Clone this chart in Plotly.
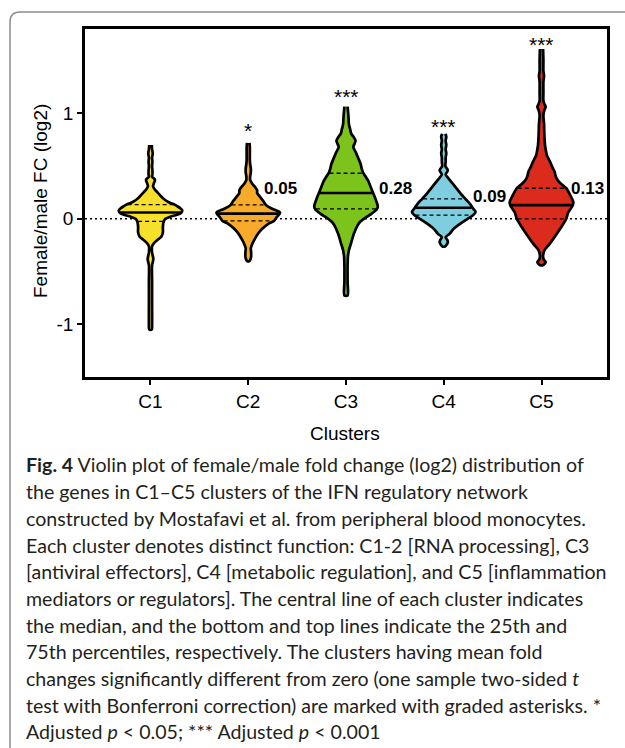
import numpy as np
import plotly.graph_objects as go

# ---------------- data ----------------
clusters = ["C1", "C2", "C3", "C4", "C5"]

# violin outlines: log2 FC levels and relative half-width (1 = widest point)
c1_y = [0.70, 0.66, 0.62, 0.58, 0.54, 0.50, 0.46, 0.42, 0.40, 0.37, 0.34, 0.31, 0.28, 0.25, 0.22, 0.19,
        0.16, 0.14, 0.12, 0.10, 0.08, 0.06, 0.04, 0.02, 0.00, -0.03, -0.08, -0.13, -0.17, -0.20, -0.23,
        -0.26, -0.32, -0.36, -0.38, -0.40, -0.44, -0.60, -0.80, -1.00, -1.05]
c1_w = [0.04, 0.05, 0.07, 0.05, 0.06, 0.05, 0.06, 0.06, 0.05, 0.14, 0.11, 0.08, 0.13, 0.22, 0.31, 0.41,
        0.56, 0.72, 0.84, 0.94, 1.00, 0.97, 0.86, 0.62, 0.47, 0.41, 0.39, 0.39, 0.34, 0.22, 0.11,
        0.05, 0.05, 0.08, 0.09, 0.08, 0.05, 0.05, 0.05, 0.05, 0.04]

c2_y = [0.72, 0.68, 0.62, 0.56, 0.52, 0.48, 0.44, 0.40, 0.37, 0.33, 0.30, 0.27, 0.245, 0.22, 0.17, 0.13,
        0.10, 0.08, 0.06, 0.04, 0.02, 0.00, -0.02, -0.05, -0.095, -0.14, -0.20, -0.25, -0.28, -0.32,
        -0.36, -0.39, -0.40]
c2_w = [0.04, 0.05, 0.05, 0.05, 0.06, 0.08, 0.08, 0.06, 0.06, 0.13, 0.22, 0.28, 0.28, 0.34, 0.47, 0.56,
        0.72, 0.88, 1.00, 0.97, 0.91, 0.86, 0.81, 0.62, 0.44, 0.31, 0.19, 0.11, 0.08, 0.09,
        0.09, 0.06, 0.04]

c3_y = [1.065, 1.03, 0.96, 0.90, 0.85, 0.81, 0.78, 0.74, 0.70, 0.68, 0.63, 0.58, 0.52, 0.47, 0.43, 0.40,
        0.36, 0.30, 0.24, 0.17, 0.12, 0.09, 0.05, 0.02, 0.00, -0.03, -0.06, -0.14, -0.22, -0.30, -0.36,
        -0.45, -0.60, -0.727]
c3_w = [0.05, 0.06, 0.08, 0.09, 0.13, 0.16, 0.23, 0.30, 0.25, 0.23, 0.31, 0.38, 0.46, 0.50, 0.55, 0.62,
        0.70, 0.78, 0.86, 0.95, 1.00, 0.97, 0.81, 0.66, 0.56, 0.44, 0.37, 0.25, 0.17, 0.09, 0.06,
        0.05, 0.05, 0.05]

c4_y = [0.806, 0.78, 0.74, 0.70, 0.66, 0.62, 0.58, 0.54, 0.50, 0.46, 0.42, 0.39, 0.36, 0.30, 0.24, 0.19,
        0.14, 0.10, 0.065, 0.04, 0.02, 0.00, -0.05, -0.095, -0.14, -0.175, -0.20, -0.22, -0.245, -0.262]
c4_w = [0.05, 0.08, 0.06, 0.08, 0.06, 0.08, 0.06, 0.06, 0.05, 0.13, 0.06, 0.13, 0.21, 0.37, 0.53, 0.68,
        0.83, 0.92, 1.00, 0.94, 0.86, 0.75, 0.50, 0.31, 0.19, 0.06, 0.11, 0.13, 0.09, 0.04]

c5_y = [1.61, 1.50, 1.40, 1.36, 1.30, 1.20, 1.12, 1.09, 1.06, 1.03, 0.98, 0.90, 0.80, 0.70, 0.66, 0.60,
        0.57, 0.52, 0.49, 0.45, 0.41, 0.37, 0.33, 0.29, 0.22, 0.16, 0.126, 0.06, 0.02, 0.00, -0.03,
        -0.08, -0.16, -0.24, -0.30, -0.36, -0.39, -0.41, -0.43, -0.44]
c5_w = [0.05, 0.06, 0.06, 0.08, 0.06, 0.06, 0.06, 0.09, 0.13, 0.09, 0.06, 0.08, 0.09, 0.11, 0.13, 0.17,
        0.22, 0.30, 0.34, 0.41, 0.44, 0.50, 0.62, 0.78, 0.91, 1.00, 0.98, 0.84, 0.80, 0.78, 0.72,
        0.62, 0.44, 0.25, 0.09, 0.05, 0.08, 0.13, 0.09, 0.04]

profile_y = [c1_y, c2_y, c3_y, c4_y, c5_y]
profile_w = [c1_w, c2_w, c3_w, c4_w, c5_w]

q1 = [-0.025, -0.02, 0.095, 0.035, 0.0]
median = [0.06, 0.05, 0.245, 0.105, 0.13]
q3 = [0.135, 0.133, 0.432, 0.19, 0.29]

mean_labels = ["", "0.05", "0.28", "0.09", "0.13"]
significance = ["", "*", "***", "***", "***"]

caption_lines = [
    "<b>Fig. 4</b> Violin plot of female/male fold change (log2) distribution of",
    "the genes in C1–C5 clusters of the IFN regulatory network",
    "constructed by Mostafavi et al. from peripheral blood monocytes.",
    "Each cluster denotes distinct function: C1-2 [RNA processing], C3",
    "[antiviral effectors], C4 [metabolic regulation], and C5 [inflammation",
    "mediators or regulators]. The central line of each cluster indicates",
    "the median, and the bottom and top lines indicate the 25th and",
    "75th percentiles, respectively. The clusters having mean fold",
    "changes significantly different from zero (one sample two-sided <i>t</i>",
    "test with Bonferroni correction) are marked with graded asterisks. *",
    "Adjusted <i>p</i> &lt; 0.05; *** Adjusted <i>p</i> &lt; 0.001",
]

# ---------------- styling / layout constants ----------------
colors = ["#F6E02B", "#F8AA2A", "#7CC31C", "#7DCFE0", "#DA2B1D"]
HALF = 0.325            # widest half-width in category units
W, H = 625, 748
L, R, T, B = 85, 18, 29, 371
PW, PH = W - L - R, H - T - B
FONT = "Liberation Sans, Arial, sans-serif"

label_dx = [0, 0.33, 0.51, 0.47, 0.47]
label_y = [0, 0.284, 0.284, 0.214, 0.284]
star_y = [0, 0.856, 1.175, 0.894, 1.672]


def px_x(px):
    return (px - L) / PW


def px_y(py):
    return (H - B - py) / PH


fig = go.Figure()

for i in range(5):
    ys = np.array(profile_y[i], dtype=float)
    hw = np.array(profile_w[i], dtype=float) * HALF
    xs = np.concatenate([i + hw, (i - hw)[::-1]])
    yy = np.concatenate([ys, ys[::-1]])
    fig.add_trace(go.Scatter(
        x=xs, y=yy, mode="lines", fill="toself", fillcolor=colors[i],
        line=dict(color="black", width=2.7, shape="spline", smoothing=0.8),
        hoverinfo="skip", showlegend=False))
    for q, dash, lw in [(q1[i], "4px,3px", 1.3), (q3[i], "4px,3px", 1.3), (median[i], "solid", 2.7)]:
        h = float(np.interp(q, ys[::-1], hw[::-1])) - 0.01
        fig.add_trace(go.Scatter(
            x=[i - h, i + h], y=[q, q], mode="lines",
            line=dict(color="black", width=lw, dash=dash),
            hoverinfo="skip", showlegend=False))
    if mean_labels[i]:
        fig.add_annotation(x=i + label_dx[i], y=label_y[i], text="<b>" + mean_labels[i] + "</b>",
                           showarrow=False, xanchor="center", yanchor="middle",
                           font=dict(family=FONT, size=17, color="black"))
    if significance[i]:
        fig.add_annotation(x=i, y=star_y[i], text=significance[i], showarrow=False,
                           xanchor="center", yanchor="middle", yshift=-2,
                           font=dict(family=FONT, size=21, color="black"))

# dotted zero line
fig.add_shape(type="line", xref="paper", x0=0, x1=1, yref="y", y0=0, y1=0,
              line=dict(color="black", width=1.6, dash="2px,3px"), layer="below")

# outer rounded frame
x10, x20, xr = px_x(10), px_x(20), px_x(660)
y12, y22, yb = px_y(12), px_y(22), px_y(790)
fig.add_shape(type="path", xref="paper", yref="paper",
              path=f"M {x10},{yb} L {x10},{y22} Q {x10},{y12} {x20},{y12} L {xr},{y12}",
              line=dict(color="#8c8c8c", width=1.5))

axis_font = dict(family=FONT, size=19, color="black")
fig.update_xaxes(range=[-0.67, 4.67], tickvals=list(range(5)), ticktext=clusters,
                 showline=True, linecolor="black", linewidth=2.7, mirror=True,
                 ticks="outside", ticklen=5, tickwidth=2.4, tickcolor="black",
                 tickfont=axis_font, showgrid=False, zeroline=False)
fig.update_yaxes(range=[-1.5, 1.8], tickvals=[-1, 0, 1], ticktext=["-1", "0", "1"],
                 showline=True, linecolor="black", linewidth=2.7, mirror=True,
                 ticks="outside", ticklen=5, tickwidth=2.4, tickcolor="black",
                 tickfont=axis_font, showgrid=False, zeroline=False)

# axis titles
fig.add_annotation(xref="paper", yref="paper", x=px_x(345), y=px_y(433), text="Clusters",
                   showarrow=False, xanchor="center", yanchor="middle",
                   font=dict(family=FONT, size=19, color="black"))
fig.add_annotation(xref="paper", yref="paper", x=px_x(41), y=px_y(201),
                   text="Female/male FC (log2)", textangle=-90,
                   showarrow=False, xanchor="center", yanchor="middle",
                   font=dict(family=FONT, size=19, color="black"))

# caption
for k, line in enumerate(caption_lines):
    fig.add_annotation(xref="paper", yref="paper", x=px_x(24), y=px_y(465 + k * 26.67),
                       text=line, showarrow=False, xanchor="left", yanchor="middle",
                       font=dict(family="Lato", size=19.6, color="#231f20"))

fig.update_layout(width=W, height=H, margin=dict(l=L, r=R, t=T, b=B, autoexpand=False),
                  plot_bgcolor="white", paper_bgcolor="white", showlegend=False)

fig.write_html("out.html")
